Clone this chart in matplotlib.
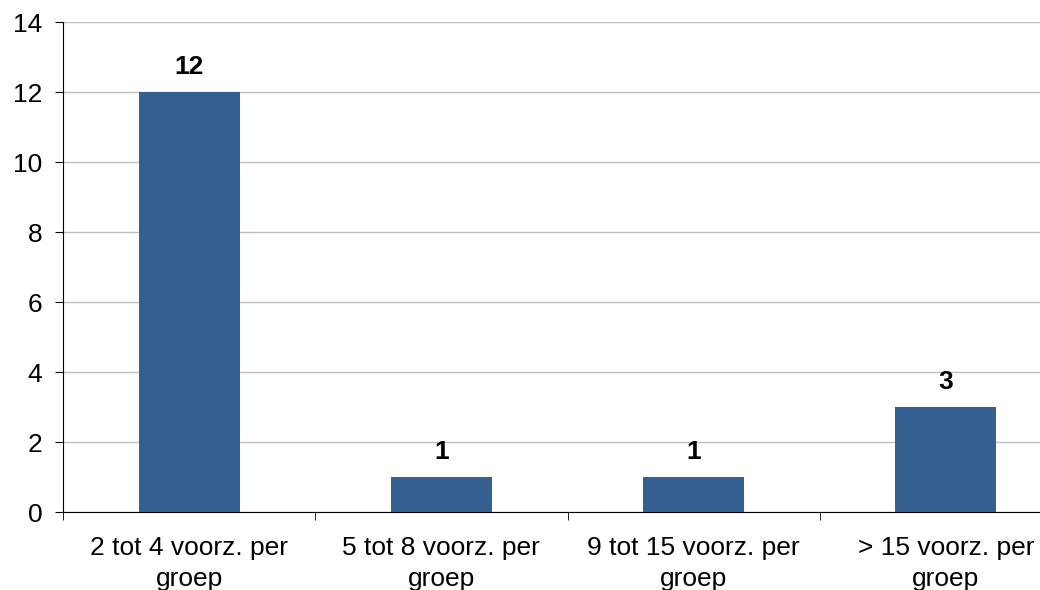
import matplotlib
matplotlib.use("Agg")
import matplotlib.pyplot as plt
import numpy as np

categories = ["2 tot 4 voorz. per\ngroep", "5 tot 8 voorz. per\ngroep",
              "9 tot 15 voorz. per\ngroep", "> 15 voorz. per\ngroep"]
values = [12, 1, 1, 3]
yticks = [0, 2, 4, 6, 8, 10, 12, 14]

plt.rcParams['font.family'] = ['Liberation Sans', 'DejaVu Sans']

fig = plt.figure(figsize=(10.4, 5.9), dpi=100)
# the reference is cropped on the right, so the axes run past the figure edge
ax = fig.add_axes([63 / 1040, 1 - 512 / 590, (1072 - 63) / 1040, (512 - 22) / 590])

x = np.arange(len(categories))
bars = ax.bar(x, values, width=0.4, color='#365f91', zorder=3)

for b, v in zip(bars, values):
    ax.text(b.get_x() + b.get_width() / 2, v + 0.38, str(v),
            ha='center', va='bottom', fontsize=19, fontweight='bold')

ax.set_xlim(-0.5, len(categories) - 0.5)
ax.set_ylim(0, 14)
ax.set_yticks(yticks)
ax.tick_params(axis='y', labelsize=19, length=6, color='black', pad=9)
ax.yaxis.grid(True, color='#c0c0c0', linewidth=1, zorder=0)

# category labels centred, divider ticks between them
ax.set_xticks(x)
ax.set_xticklabels(categories, fontsize=19, linespacing=1.4)
ax.tick_params(axis='x', length=0, pad=17)
ax.set_xticks(np.arange(len(categories) + 1) - 0.5, minor=True)
ax.tick_params(axis='x', which='minor', length=6, color='black')

for s in ['top', 'right']:
    ax.spines[s].set_visible(False)
ax.spines['left'].set_color('black')
ax.spines['bottom'].set_color('black')

fig.savefig('out.png', dpi=100)
